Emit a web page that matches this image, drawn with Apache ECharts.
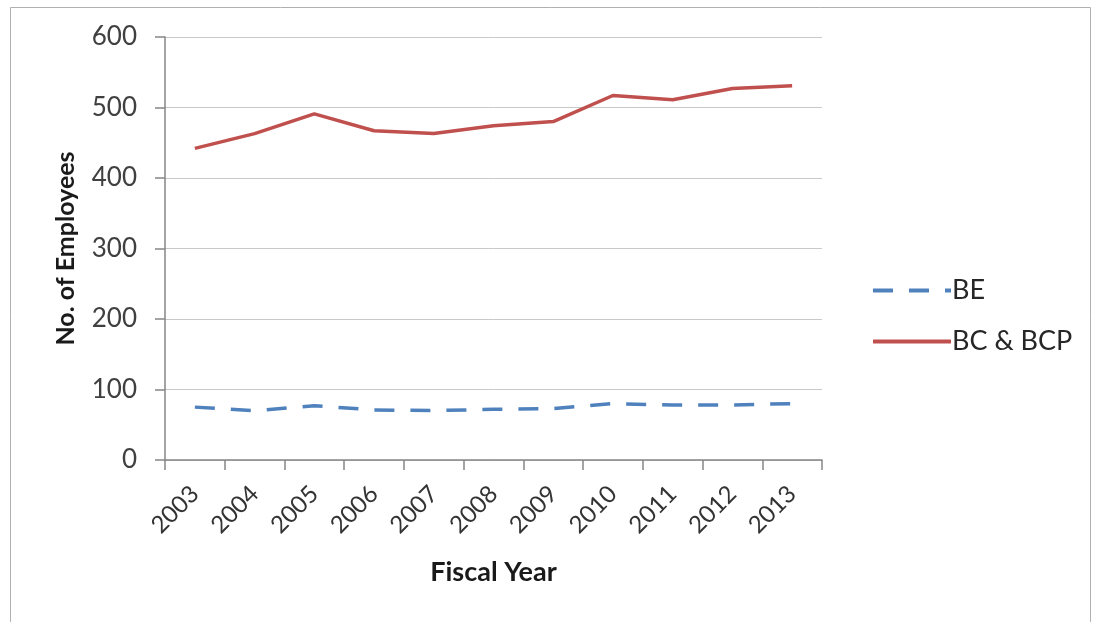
<!DOCTYPE html>
<html>
<head>
<meta charset="utf-8">
<script src="https://cdn.jsdelivr.net/npm/echarts@6/dist/echarts.min.js"></script>
<style>
  html, body { margin: 0; padding: 0; background: #fff; }
  #chart { width: 1096px; height: 622px; }
</style>
</head>
<body>
<div id="chart"></div>
<script>
// 数据
const years = ['2003', '2004', '2005', '2006', '2007', '2008', '2009', '2010', '2011', '2012', '2013']
const beValues = [75, 70, 77, 71, 70, 72, 73, 80, 78, 78, 80]
const bcValues = [442, 463, 491, 467, 463, 474, 480, 517, 511, 527, 531]
const yTicks = { min: 0, max: 600, interval: 100 }

const font = 'Lato, "Open Sans", sans-serif'

const chart = echarts.init(document.getElementById('chart'))

chart.setOption({
  animation: false,
  backgroundColor: '#fff',
  graphic: [{
    type: 'rect',
    left: 8, top: 5,
    shape: { width: 1080, height: 640 },
    style: { fill: 'none', stroke: '#b0b0b0', lineWidth: 1 },
    silent: true
  }],
  grid: { left: 165, right: 274, top: 37, bottom: 162 },
  legend: {
    orient: 'vertical',
    left: 866,
    top: 272,
    itemWidth: 78,
    itemHeight: 14,
    itemGap: 24,
    itemStyle: { opacity: 0 },
    lineStyle: { width: 4 },
    textStyle: { fontFamily: font, fontSize: 27, color: '#262626', padding: [0, 0, 0, -4] },
    data: ['BE', 'BC & BCP']
  },
  xAxis: {
    type: 'category',
    data: years,
    boundaryGap: true,
    name: 'Fiscal Year',
    nameLocation: 'middle',
    nameGap: 99,
    nameTextStyle: { fontFamily: font, fontSize: 27, fontWeight: 'bold', color: '#1a1a1a' },
    axisLine: { lineStyle: { color: '#868686', width: 1.5 } },
    axisTick: { show: true, alignWithLabel: false, length: 10, lineStyle: { color: '#868686', width: 1.5 } },
    axisLabel: { rotate: 45, fontFamily: font, fontSize: 24, color: '#333', margin: 30 }
  },
  yAxis: {
    type: 'value',
    min: yTicks.min,
    max: yTicks.max,
    interval: yTicks.interval,
    name: 'No. of Employees',
    nameLocation: 'middle',
    nameGap: 87,
    nameTextStyle: { fontFamily: font, fontSize: 25, fontWeight: 'bold', color: '#1a1a1a' },
    axisLine: { show: true, lineStyle: { color: '#868686', width: 1.5 } },
    axisTick: { show: true, length: 10, lineStyle: { color: '#868686', width: 1.5 } },
    axisLabel: { fontFamily: font, fontSize: 26, color: '#404040', margin: 28 },
    splitLine: { lineStyle: { color: '#c8c8c8', width: 1 } }
  },
  series: [
    {
      name: 'BE',
      type: 'line',
      data: beValues,
      symbol: 'none',
      lineStyle: { color: '#4f81bd', width: 3.5, type: [20, 16] },
      itemStyle: { color: '#4f81bd' }
    },
    {
      name: 'BC & BCP',
      type: 'line',
      data: bcValues,
      symbol: 'none',
      lineStyle: { color: '#c0504d', width: 3.5 },
      itemStyle: { color: '#c0504d' }
    }
  ]
})
</script>
</body>
</html>
